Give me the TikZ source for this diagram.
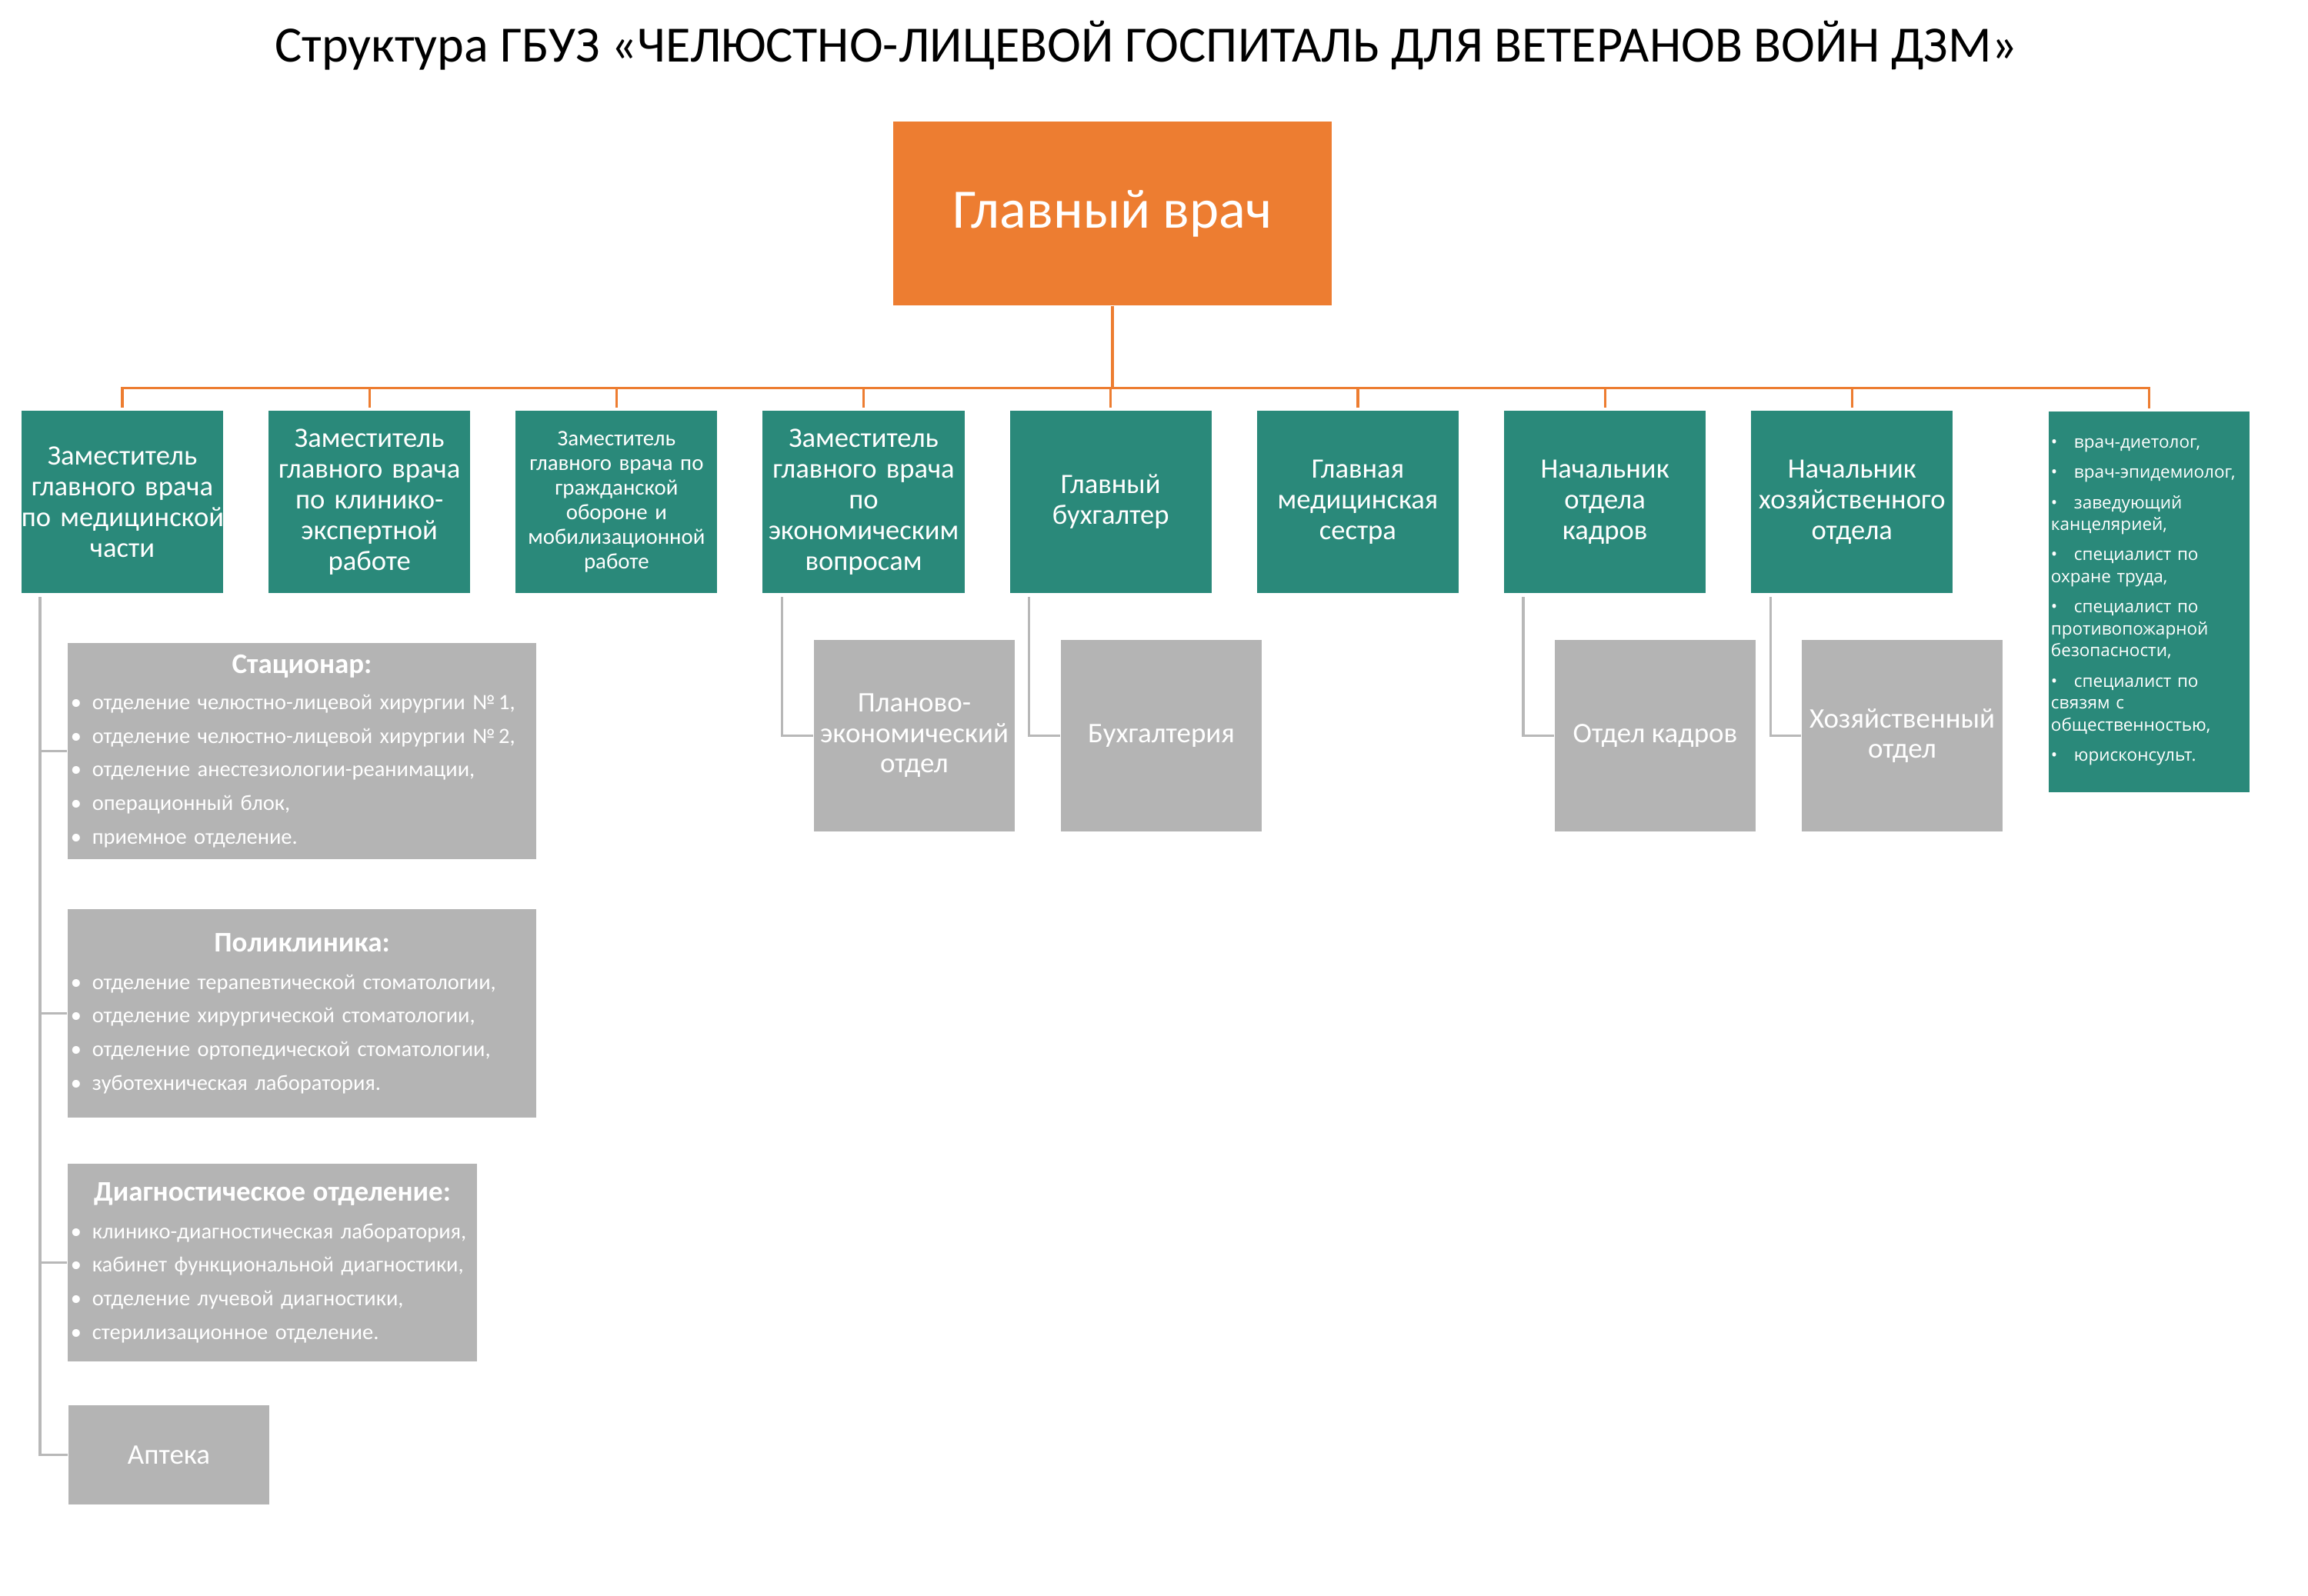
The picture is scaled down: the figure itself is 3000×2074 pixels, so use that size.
\documentclass[tikz,border=0pt]{standalone}
\usepackage{fontspec}
\setmainfont{Carlito}
\newfontfamily\listfont{Open Sans}
\usepackage{xcolor}
\usepackage{tikz}
\usetikzlibrary{positioning}

\definecolor{chiefOrange}{RGB}{237,125,49}
\definecolor{deptTeal}{RGB}{42,137,122}
\definecolor{unitGray}{RGB}{180,180,180}
\definecolor{lineGray}{RGB}{184,184,184}

\newcommand{\bul}[1]{\mbox{\makebox[0.28cm][l]{•}#1}}
\newcommand{\lbul}{\makebox[0.30cm][l]{•}}
\newcommand{\hdr}[1]{\makebox[\hsize]{\fontsize{10.5}{12}\selectfont\bfseries #1}}

\begin{document}
\begin{tikzpicture}[x=0.01cm, y=-0.01cm,
    chief/.style={
      fill=chiefOrange, text=white, minimum width=5.7cm, minimum height=2.39cm,
      inner sep=0pt, font=\fontsize{20.6}{24}\selectfont
    },
    dep/.style={
      fill=deptTeal, text=white, text width=2.62cm, inner xsep=0pt,
      inner ysep=0pt, outer sep=0pt, minimum height=2.37cm, align=center,
      font=\fontsize{10.4}{11.4}\selectfont
    },
    unit/.style={
      fill=unitGray, text=white, minimum width=2.61cm, minimum height=2.49cm,
      inner sep=0pt, align=center, font=\fontsize{10.5}{11.2}\selectfont
    },
    unitlist/.style={
      fill=unitGray, text=white, align=left, inner xsep=0.04cm, inner ysep=0pt,
      font=\fontsize{8.1}{12.4}\selectfont
    },
    stafflist/.style={
      fill=deptTeal, text=white, align=left, text width=2.55cm,
      inner xsep=0.03cm, inner ysep=0pt, minimum height=4.95cm,
      font=\listfont\fontsize{6.4}{8.1}\selectfont
    },
    orgline/.style={draw=chiefOrange, line width=0.9pt, shorten >=1pt},
    subline/.style={draw=lineGray, line width=1pt}
  ]
  \useasboundingbox (0,0) rectangle (3000,2074);

  % ===== Title =====
  \node[anchor=base, font=\fontsize{18.8}{22}\selectfont] (title) at (1490,80)
    {Структура ГБУЗ «ЧЕЛЮСТНО-ЛИЦЕВОЙ ГОСПИТАЛЬ ДЛЯ ВЕТЕРАНОВ ВОЙН ДЗМ»};

  % ===== Chief physician =====
  \node[chief] (chief) at (1446,277.5) {Главный врач};

  % ===== Deputies and heads =====
  \node[dep] (medDep) at (159,652.5)
    {Заместитель\\главного врача\\\mbox{по медицинской}\\части};
  \node[dep, right=0.59cm of medDep] (expDep)
    {Заместитель\\главного врача\\по клинико-\\экспертной\\работе};
  \node[dep, right=0.59cm of expDep, font=\fontsize{8.2}{9.1}\selectfont] (civDep)
    {Заместитель\\главного врача по\\гражданской\\обороне и\\мобилизационной\\работе};
  \node[dep, right=0.59cm of civDep] (ecoDep)
    {Заместитель\\главного врача\\по\\экономическим\\вопросам};
  \node[dep, right=0.59cm of ecoDep] (accChief)
    {Главный\\бухгалтер};
  \node[dep, right=0.59cm of accChief] (headNurse)
    {Главная\\медицинская\\сестра};
  \node[dep, right=0.59cm of headNurse] (hrChief)
    {Начальник\\отдела\\кадров};
  \node[dep, right=0.59cm of hrChief] (hozChief)
    {Начальник\\хозяйственного\\отдела};

  % Specialists list
  \node[stafflist] (staff) at (2793.5,782.5) {
    \lbul врач-диетолог,\\[3.1pt]
    \lbul врач-эпидемиолог,\\[3.1pt]
    \lbul заведующий\\канцелярией,\\[3.1pt]
    \lbul специалист по\\охране труда,\\[3.1pt]
    \lbul специалист по\\противопожарной\\безопасности,\\[3.1pt]
    \lbul специалист по\\связям с\\общественностью,\\[3.1pt]
    \lbul юрисконсульт.
  };

  % Orange tree
  \draw[orgline] (chief.south) -- ++(0,107) -| (medDep.north);
  \draw[orgline] (chief.south) -- ++(0,107) -| (expDep.north);
  \draw[orgline] (chief.south) -- ++(0,107) -| (civDep.north);
  \draw[orgline] (chief.south) -- ++(0,107) -| (ecoDep.north);
  \draw[orgline] (chief.south) -- ++(0,107) -| (accChief.north);
  \draw[orgline] (chief.south) -- ++(0,107) -| (headNurse.north);
  \draw[orgline] (chief.south) -- ++(0,107) -| (hrChief.north);
  \draw[orgline] (chief.south) -- ++(0,107) -| (hozChief.north);
  \draw[orgline] (chief.south) -- ++(0,107) -| (staff.north);

  % ===== Medical units =====
  \node[unitlist, text width=6.01cm, minimum height=2.81cm] (hospital) at (392.5,976.5) {
    \hdr{Стационар:}\\[1pt]
    \bul{отделение челюстно-лицевой хирургии №\,1,}\\
    \bul{отделение челюстно-лицевой хирургии №\,2,}\\
    \bul{отделение анестезиологии-реанимации,}\\
    \bul{операционный блок,}\\
    \bul{приемное отделение.}
  };
  \node[unitlist, text width=6.01cm, minimum height=2.71cm] (clinic) at (392.5,1317.5) {
    \hdr{Поликлиника:}\\[1.5pt]
    \bul{отделение терапевтической стоматологии,}\\
    \bul{отделение хирургической стоматологии,}\\
    \bul{отделение ортопедической стоматологии,}\\
    \bul{зуботехническая лаборатория.}
  };
  \node[unitlist, text width=5.24cm, minimum height=2.57cm] (diag) at (354,1641.5) {
    \hdr{Диагностическое отделение:}\\[1.5pt]
    \bul{клинико-диагностическая лаборатория,}\\
    \bul{кабинет функциональной диагностики,}\\
    \bul{отделение лучевой диагностики,}\\
    \bul{стерилизационное отделение.}
  };
  \node[unit, minimum height=1.29cm] (pharmacy) at (219.5,1891.5) {Аптека};

  \draw[subline] ([xshift=0.24cm, yshift=-0.05cm]medDep.south west) |- (hospital.west);
  \draw[subline] ([xshift=0.24cm, yshift=-0.05cm]medDep.south west) |- (clinic.west);
  \draw[subline] ([xshift=0.24cm, yshift=-0.05cm]medDep.south west) |- (diag.west);
  \draw[subline] ([xshift=0.24cm, yshift=-0.05cm]medDep.south west) |- (pharmacy.west);

  % ===== Service units =====
  \node[unit] (planDept) at (1188.5,956.5) {Планово-\\экономический\\отдел};
  \node[unit] (accDept) at (1509.5,956.5) {Бухгалтерия};
  \node[unit] (hrDept) at (2151.5,956.5) {Отдел кадров};
  \node[unit] (hozDept) at (2472.5,956.5) {Хозяйственный\\отдел};

  \draw[subline] ([xshift=0.25cm, yshift=-0.05cm]ecoDep.south west) |- (planDept.west);
  \draw[subline] ([xshift=0.25cm, yshift=-0.05cm]accChief.south west) |- (accDept.west);
  \draw[subline] ([xshift=0.25cm, yshift=-0.05cm]hrChief.south west) |- (hrDept.west);
  \draw[subline] ([xshift=0.25cm, yshift=-0.05cm]hozChief.south west) |- (hozDept.west);

\end{tikzpicture}
\end{document}
